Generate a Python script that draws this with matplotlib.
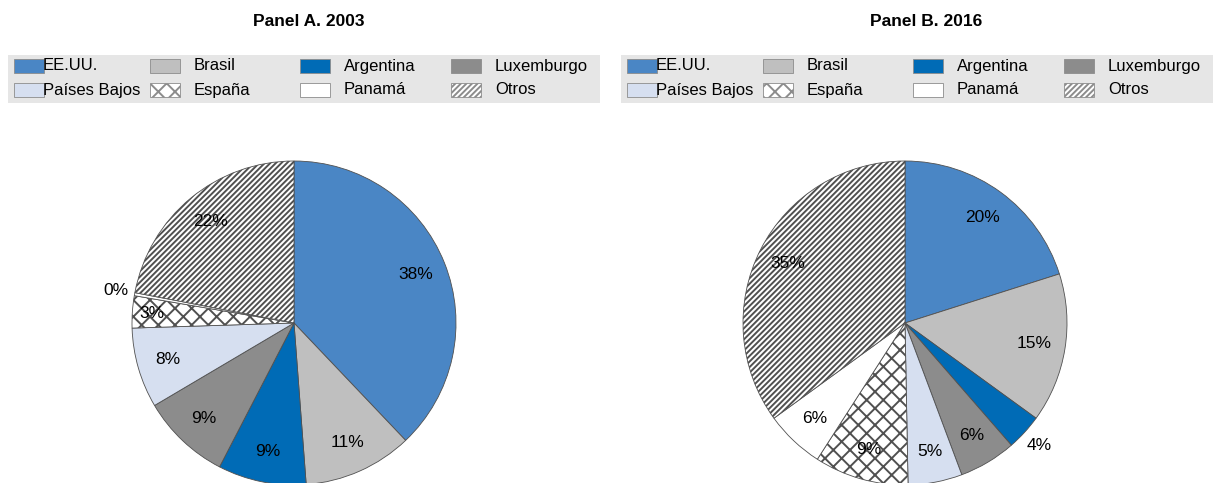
import numpy as np
import matplotlib
matplotlib.use("Agg")
import matplotlib.pyplot as plt
from matplotlib.patches import Rectangle

plt.rcParams['font.family'] = ['Liberation Sans', 'DejaVu Sans']
plt.rcParams['hatch.linewidth'] = 1.4
plt.rcParams['hatch.color'] = '#3c3c3c'

categories = ['EE.UU.', 'Brasil', 'Argentina', 'Luxemburgo',
              'Países Bajos', 'España', 'Panamá', 'Otros']
shares_2003 = [37.9, 10.9, 8.8, 8.9, 8.0, 3.2, 0.3, 22.0]
shares_2016 = [20.1, 14.9, 3.6, 5.7, 5.4, 9.4, 5.9, 35.0]
titles = ['Panel A. 2003', 'Panel B. 2016']

colors = ['#4a86c5', '#bfbfbf', '#006bb6', '#8c8c8c',
          '#d6dff0', 'white', 'white', 'white']
hatches = [None, None, None, None, None, 'xx', None, '//////']

W, H = 1214, 483
fig = plt.figure(figsize=(W / 100, H / 100), dpi=100)

R = 162
centers = [(294, 323), (905, 323)]
title_x = [309, 926]
legend_x0 = [8, 621]


def px(x, y):
    return x / W, 1 - y / H


for k, shares in enumerate([shares_2003, shares_2016]):
    cx, cy = centers[k]
    ax = fig.add_axes([(cx - R) / W, (H - cy - R) / H, 2 * R / W, 2 * R / H])
    wedges, _ = ax.pie(shares, colors=colors, startangle=90, counterclock=False,
                       radius=1, wedgeprops=dict(edgecolor='#505050', linewidth=0.6))
    for w, h in zip(wedges, hatches):
        if h:
            w.set_hatch(h)
    ax.set_xlim(-1, 1)
    ax.set_ylim(-1, 1)
    ax.set_aspect('equal')
    ax.axis('off')

    # percentage labels
    total = sum(shares)
    ang = 90.0
    for i, v in enumerate(shares):
        mid = ang - 360 * v / total / 2
        ang -= 360 * v / total
        pct = 100 * v / total
        if pct < 1 or (3.5 < pct < 4.5):
            r = 1.12
        elif pct < 3.5:
            r = 0.88
        else:
            r = 0.81
        t = np.deg2rad(mid)
        ax.text(r * np.cos(t), r * np.sin(t), '%.0f%%' % pct, ha='center', va='center',
                fontsize=12.5, color='black', clip_on=False)

    # title
    fig.text(*px(title_x[k], 22), titles[k], ha='center', va='center',
             fontsize=12.5, fontweight='bold')

    # legend box
    x0 = legend_x0[k]
    fig.patches.append(Rectangle(px(x0, 103), 592 / W, 48 / H, transform=fig.transFigure,
                                 facecolor='#e6e6e6', edgecolor='none', zorder=0))
    patch_x = [6, 142, 292, 443]
    text_x = [35, 186, 336, 487]
    row_y = [66, 90]
    for i, name in enumerate(categories):
        row, col = divmod(i, 4)
        xx = x0 + patch_x[col]
        yy = row_y[row]
        fig.patches.append(Rectangle(px(xx, yy + 7), 30 / W, 14 / H, transform=fig.transFigure,
                                     facecolor=colors[i], edgecolor='#8c8c8c', linewidth=0.6,
                                     hatch=hatches[i], zorder=1))
        fig.text(*px(x0 + text_x[col], yy), name, ha='left', va='center', fontsize=12)

fig.savefig('out.png', dpi=100)
